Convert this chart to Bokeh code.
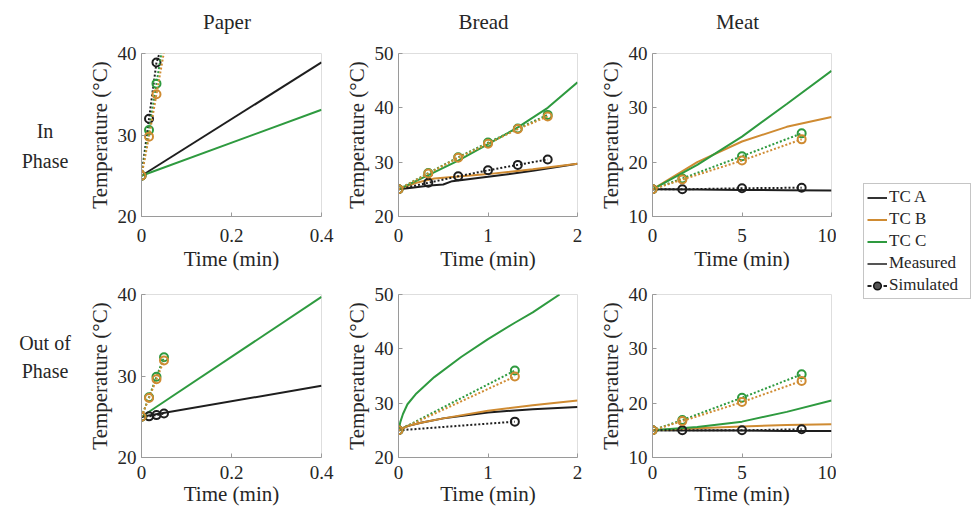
from bokeh.plotting import figure
from bokeh.layouts import row, column
from bokeh.models import Div, FixedTicker, Range1d, Legend, LegendItem
from bokeh.embed import file_html
from bokeh.resources import INLINE

# ---------------- data ----------------
# Paper, in phase
paper_in_t = [0, 0.4]
paper_in_A = [25, 38.9]
paper_in_C = [25, 33.1]
paper_in_sim_t = [0, 0.0167, 0.0333, 0.06]
paper_in_simA = [25, 32.0, 38.9, 43.3]
paper_in_simB = [25, 29.8, 35.0, 43.3]
paper_in_simC = [25, 30.6, 36.3, 45.5]

# Paper, out of phase
paper_out_t = [0, 0.4]
paper_out_A = [25, 28.8]
paper_out_C = [25, 39.7]
paper_out_sim_t = [0, 0.0167, 0.0333, 0.05]
paper_out_simA = [25, 25.05, 25.2, 25.4]
paper_out_simB = [25, 27.3, 29.6, 31.9]
paper_out_simC = [25, 27.4, 29.9, 32.3]

# Bread, in phase
bread_in_tA = [0, 0.15, 0.35, 0.5, 0.6, 1.0, 1.5, 2.0]
bread_in_A = [25, 25.3, 25.7, 25.9, 26.5, 27.3, 28.4, 29.7]
bread_in_tB = [0, 0.2, 0.4, 0.7, 1.0, 1.5, 2.0]
bread_in_B = [25, 26.2, 27.0, 27.4, 27.8, 28.7, 29.7]
bread_in_tC = [0, 0.333, 0.667, 1.0, 1.333, 1.667, 2.0]
bread_in_C = [25, 27.6, 30.3, 33.3, 36.4, 40.0, 44.7]
bread_in_sim_t = [0, 0.333, 0.667, 1.0, 1.333, 1.667]
bread_in_simA = [25, 26.2, 27.4, 28.5, 29.5, 30.5]
bread_in_simB = [25, 27.9, 30.8, 33.4, 36.1, 38.4]
bread_in_simC = [25, 28.0, 30.9, 33.6, 36.2, 38.7]

# Bread, out of phase
bread_out_tA = [0, 0.1, 0.25, 0.5, 1.0, 1.5, 2.0]
bread_out_A = [25, 25.8, 26.4, 27.2, 28.3, 28.9, 29.3]
bread_out_B = [25, 25.8, 26.4, 27.2, 28.6, 29.6, 30.5]
bread_out_tC = [0, 0.02, 0.05, 0.1, 0.2, 0.4, 0.7, 1.0, 1.3, 1.5, 1.8]
bread_out_C = [25, 26.5, 28.0, 29.8, 31.8, 34.8, 38.5, 41.8, 44.8, 46.7, 50.0]
bread_out_sim_t = [0, 1.3]
bread_out_simA = [25, 26.6]
bread_out_simB = [25, 34.9]
bread_out_simC = [25, 36.0]

# Meat, in phase
meat_t = [0, 2.5, 5, 7.5, 10]
meat_in_A = [15, 14.95, 14.9, 14.85, 14.8]
meat_in_B = [15, 20.0, 23.8, 26.5, 28.3]
meat_in_C = [15, 19.5, 24.7, 30.7, 36.8]
meat_sim_t = [0, 1.667, 5, 8.333]
meat_in_simA = [15, 15.0, 15.2, 15.3]
meat_in_simB = [15, 16.8, 20.3, 24.2]
meat_in_simC = [15, 17.0, 21.1, 25.3]

# Meat, out of phase
meat_out_A = [15, 14.95, 14.95, 14.9, 14.9]
meat_out_B = [15, 15.4, 15.7, 16.0, 16.1]
meat_out_C = [15, 15.6, 16.6, 18.4, 20.5]
meat_out_simA = [15, 15.0, 15.0, 15.2]
meat_out_simB = [15, 16.7, 20.2, 24.1]
meat_out_simC = [15, 16.9, 21.0, 25.3]

titles = ["Paper", "Bread", "Meat"]
row_labels = ["In<br>Phase", "Out of<br>Phase"]
legend_labels = ["TC A", "TC B", "TC C", "Measured", "Simulated"]
paper_xticks = [0, 0.2, 0.4]
bread_xticks = [0, 1, 2]
meat_xticks = [0, 5, 10]
paper_yticks = [20, 30, 40]
bread_yticks = [20, 30, 40, 50]
meat_yticks = [10, 20, 30, 40]

# ---------------- style ----------------
FONT = "Liberation Serif"
CSSFONT = "'Liberation Serif','Times New Roman',serif"
BLACK = "#1e1e1e"
ORANGE = "#CF8B32"
GREEN = "#2E9A3F"
AXIS = "#9a9a9a"
TEXT = "#262626"


def make_fig(xr, yr, xt, yt, w, h, bl, br, bt, bb, xstand, lstand):
    p = figure(width=w, height=h,
               x_range=Range1d(*xr), y_range=Range1d(*yr),
               output_backend="svg", toolbar_location=None,
               min_border_left=bl, min_border_right=br,
               min_border_top=bt, min_border_bottom=bb)
    p.title.visible = False
    p.grid.visible = False
    p.outline_line_color = "#dedede"
    p.background_fill_color = "white"
    p.border_fill_color = "white"
    p.xaxis.ticker = FixedTicker(ticks=xt)
    p.yaxis.ticker = FixedTicker(ticks=yt)
    p.xaxis.major_label_overrides = {t: ("%g" % t) for t in xt}
    p.xaxis.axis_label = "Time (min)"
    p.yaxis.axis_label = "Temperature (\u00b0C)"
    for ax in (p.xaxis[0], p.yaxis[0]):
        ax.axis_line_color = AXIS
        ax.major_tick_line_color = AXIS
        ax.major_tick_in = 4
        ax.major_tick_out = 0
        ax.minor_tick_line_color = None
        ax.major_label_text_font = FONT
        ax.major_label_text_font_size = "19px"
        ax.major_label_text_color = TEXT
        ax.axis_label_text_font = FONT
        ax.axis_label_text_font_size = "21px"
        ax.axis_label_text_font_style = "normal"
        ax.axis_label_text_color = TEXT
    p.yaxis.major_label_standoff = 5
    p.yaxis.axis_label_standoff = 3
    p.xaxis.major_label_standoff = xstand
    p.xaxis.axis_label_standoff = lstand
    return p


def draw(p, meas, sims):
    for (t, y, c) in meas:
        p.line(t, y, color=c, line_width=2)
    for (t, y, c) in sims:
        p.line(t, y, color=c, line_width=2, line_dash="2 2")
        p.scatter(t, y, marker="circle", size=8, line_color=c, line_width=2,
                  fill_color="white", fill_alpha=0.0)


# title row 36; row 1: top 17, frame 163, bottom 57 -> 237
# row 2: top 21, frame 163, bottom 51 -> 235 ; total 508
HT, H1, H2 = 36, 237, 235
BL = 61
W1, W2, W3 = 257, 254, 245

f1 = make_fig((0, 0.4), (20, 40), paper_xticks, paper_yticks, W1, H1, BL, 16, 17, 57, 12, 2)
draw(f1, [(paper_in_t, paper_in_A, BLACK), (paper_in_t, paper_in_C, GREEN)],
     [(paper_in_sim_t, paper_in_simA, BLACK), (paper_in_sim_t, paper_in_simC, GREEN),
      (paper_in_sim_t, paper_in_simB, ORANGE)])

f2 = make_fig((0, 2), (20, 50), bread_xticks, bread_yticks, W2, H1, BL, 14, 17, 57, 12, 2)
draw(f2, [(bread_in_tA, bread_in_A, BLACK), (bread_in_tB, bread_in_B, ORANGE),
          (bread_in_tC, bread_in_C, GREEN)],
     [(bread_in_sim_t, bread_in_simA, BLACK), (bread_in_sim_t, bread_in_simC, GREEN),
      (bread_in_sim_t, bread_in_simB, ORANGE)])

f3 = make_fig((0, 10), (10, 40), meat_xticks, meat_yticks, W3, H1, BL, 5, 17, 57, 12, 2)
draw(f3, [(meat_t, meat_in_A, BLACK), (meat_t, meat_in_B, ORANGE), (meat_t, meat_in_C, GREEN)],
     [(meat_sim_t, meat_in_simA, BLACK), (meat_sim_t, meat_in_simC, GREEN),
      (meat_sim_t, meat_in_simB, ORANGE)])

f4 = make_fig((0, 0.4), (20, 40), paper_xticks, paper_yticks, W1, H2, BL, 16, 21, 51, 8, 0)
draw(f4, [(paper_out_t, paper_out_A, BLACK), (paper_out_t, paper_out_C, GREEN)],
     [(paper_out_sim_t, paper_out_simA, BLACK), (paper_out_sim_t, paper_out_simC, GREEN),
      (paper_out_sim_t, paper_out_simB, ORANGE)])

f5 = make_fig((0, 2), (20, 50), bread_xticks, bread_yticks, W2, H2, BL, 14, 21, 51, 8, 0)
draw(f5, [(bread_out_tA, bread_out_A, BLACK), (bread_out_tA, bread_out_B, ORANGE),
          (bread_out_tC, bread_out_C, GREEN)],
     [(bread_out_sim_t, bread_out_simA, BLACK), (bread_out_sim_t, bread_out_simC, GREEN),
      (bread_out_sim_t, bread_out_simB, ORANGE)])

f6 = make_fig((0, 10), (10, 40), meat_xticks, meat_yticks, W3, H2, BL, 5, 21, 51, 8, 0)
draw(f6, [(meat_t, meat_out_A, BLACK), (meat_t, meat_out_B, ORANGE), (meat_t, meat_out_C, GREEN)],
     [(meat_sim_t, meat_out_simA, BLACK), (meat_sim_t, meat_out_simC, GREEN),
      (meat_sim_t, meat_out_simB, ORANGE)])

# ---------------- column titles ----------------
def title_div(text, w, fw):
    html = ('<div style="margin-left:%dpx;width:%dpx;margin-top:10px;text-align:center;'
            'font-family:%s;font-size:21px;line-height:24px;color:%s">%s</div>'
            % (BL - 4, fw, CSSFONT, TEXT, text))
    return Div(text=html, width=w, height=HT, margin=0)


title_row = row(title_div(titles[0], W1, 180), title_div(titles[1], W2, 179),
                title_div(titles[2], W3, 179))

# ---------------- legend figure ----------------
TOTAL = HT + H1 + H2
lf = figure(width=135, height=TOTAL, min_border=0,
            x_range=Range1d(0, 1), y_range=Range1d(0, 1),
            x_axis_location=None, y_axis_location=None,
            output_backend="svg", toolbar_location=None)
lf.title.visible = False
lf.grid.visible = False
lf.outline_line_color = None
rA = lf.line([5, 6], [5, 6], color="#333333", line_width=2)
rB = lf.line([5, 6], [5, 6], color=ORANGE, line_width=2)
rC = lf.line([5, 6], [5, 6], color=GREEN, line_width=2)
rM = lf.line([5, 6], [5, 6], color="#555555", line_width=2)
rS1 = lf.line([5, 6], [5, 6], color="#222222", line_width=2, line_dash="4 4")
rS2 = lf.scatter([5], [5], marker="circle", size=8, line_color="#111111",
                 fill_color="#555555", line_width=1.5)
legend = Legend(items=[LegendItem(label=legend_labels[0], renderers=[rA]),
                       LegendItem(label=legend_labels[1], renderers=[rB]),
                       LegendItem(label=legend_labels[2], renderers=[rC]),
                       LegendItem(label=legend_labels[3], renderers=[rM]),
                       LegendItem(label=legend_labels[4], renderers=[rS1, rS2])],
                location=(27, 209), border_line_color="#8c8c8c", border_line_width=1,
                label_text_font=FONT, label_text_font_size="17px", label_text_color=TEXT,
                glyph_width=20, glyph_height=19, label_height=19, label_width=78,
                spacing=2, padding=3, margin=0, label_standoff=2,
                background_fill_alpha=1.0)
lf.add_layout(legend)

# ---------------- row labels ----------------
lab_style = ("width:80px;text-align:center;font-family:%s;"
             "font-size:20px;color:%s;" % (CSSFONT, TEXT))
label_html = ('<div style="%sline-height:30px;margin-top:111px">%s</div>'
              '<div style="%sline-height:28px;margin-top:153px">%s</div>') % (
    lab_style, row_labels[0], lab_style, row_labels[1])
labels_div = Div(text=label_html, width=70, height=TOTAL)

grid = column(title_row, row(f1, f2, f3), row(f4, f5, f6))
layout = row(labels_div, grid, lf)

open("out.html", "w").write(file_html(layout, INLINE))
